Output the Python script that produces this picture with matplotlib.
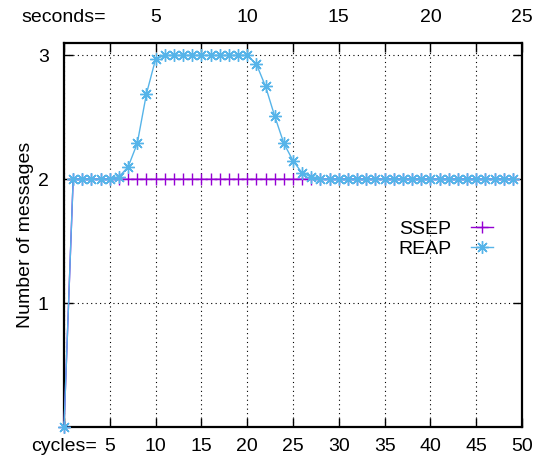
import matplotlib
matplotlib.use("Agg")
import matplotlib.pyplot as plt

plt.rcParams['font.family'] = ['Liberation Sans', 'DejaVu Sans']

cycles = [0, 1, 2, 3, 4, 5, 6, 7, 8, 9, 10, 11, 12, 13, 14, 15, 16, 17, 18, 19,
          20, 21, 22, 23, 24, 25, 26, 27, 28, 29, 30, 31, 32, 33, 34, 35, 36, 37,
          38, 39, 40, 41, 42, 43, 44, 45, 46, 47, 48, 49]
ssep = [0, 2, 2, 2, 2, 2, 2, 2, 2, 2, 2, 2, 2, 2, 2, 2, 2, 2, 2, 2,
        2, 2, 2, 2, 2, 2, 2, 2, 2, 2, 2, 2, 2, 2, 2, 2, 2, 2,
        2, 2, 2, 2, 2, 2, 2, 2, 2, 2, 2, 2]
reap = [0, 2.0, 2.0, 2.0, 2.0, 2.0, 2.02, 2.10, 2.29, 2.69, 2.97, 3.0, 3.0, 3.0,
        3.0, 3.0, 3.0, 3.0, 3.0, 3.0, 3.0, 2.93, 2.75, 2.51, 2.29, 2.15, 2.05,
        2.02, 2.0, 2.0, 2.0, 2.0, 2.0, 2.0, 2.0, 2.0, 2.0, 2.0, 2.0, 2.0, 2.0,
        2.0, 2.0, 2.0, 2.0, 2.0, 2.0, 2.0, 2.0, 2.0]

xticks = [0, 5, 10, 15, 20, 25, 30, 35, 40, 45, 50]
xticklabels = ["cycles=", "5", "10", "15", "20", "25", "30", "35", "40", "45", "50"]
top_ticks = [0, 10, 20, 30, 40, 50]
top_labels = ["seconds=", "5", "10", "15", "20", "25"]
yticks = [1, 2, 3]
yticklabels = ["1", "2", "3"]

fs = 14
fig = plt.figure(figsize=(5.47, 4.69), dpi=100)
ax = fig.add_axes([64/547, 42/469, (522-64)/547, (427-43)/469])

ax.plot(cycles, ssep, color='#9400D3', lw=1.0, marker='+', ms=8, mew=1.0,
        label='SSEP', clip_on=False, zorder=3)
ax.plot(cycles, reap, color='#56B4E9', lw=1.0, marker=(8, 2, 0), ms=9, mew=1.0,
        label='REAP', clip_on=False, zorder=4)

ax.set_xlim(0, 50)
ax.set_ylim(0, 3.1)
ax.set_xticks(xticks)
ax.set_xticklabels(xticklabels)
ax.set_yticks(yticks)
ax.set_yticklabels(yticklabels)
ax.tick_params(axis='both', direction='in', length=6.5, width=1.0, labelsize=fs,
               top=True, right=True)
ax.tick_params(axis='x', pad=8)
ax.tick_params(axis='y', pad=11)
ax.grid(True, color='black', linestyle=(0, (1, 3)), lw=0.8)
for s in ax.spines.values():
    s.set_linewidth(1.6)
    s.set_zorder(2.5)

sec = ax.secondary_xaxis('top')
sec.set_xticks(top_ticks)
sec.set_xticklabels(top_labels)
sec.tick_params(length=0, labelsize=fs, pad=12)
sec.spines['top'].set_visible(False)

ax.set_ylabel('Number of messages', fontsize=fs, labelpad=3)

ax.legend(loc='center right', bbox_to_anchor=(0.975, 0.49), frameon=False,
          markerfirst=False, fontsize=fs, handlelength=1.15, handletextpad=1.0,
          labelspacing=0.12)

fig.savefig('out.png', dpi=100)
